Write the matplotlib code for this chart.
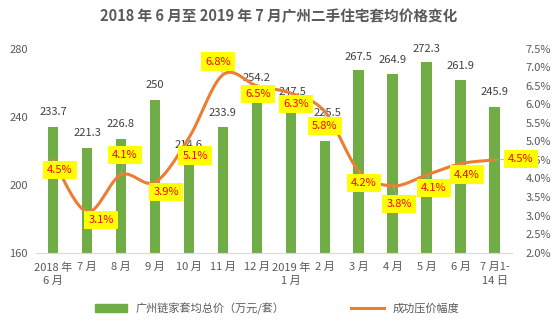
import numpy as np
import matplotlib.pyplot as plt
from matplotlib.lines import Line2D
from matplotlib.patches import Patch

plt.rcParams['font.family'] = ['Noto Sans CJK SC', 'DejaVu Sans']

# data
months = ['2018 年\n6 月', '7 月', '8 月', '9 月', '10 月', '11 月', '12 月',
          '2019 年\n1 月', '2 月', '3 月', '4 月', '5 月', '6 月', '7 月1-\n14 日']
avg_price = [233.7, 221.3, 226.8, 250, 214.6, 233.9, 254.2,
             247.5, 225.5, 267.5, 264.9, 272.3, 261.9, 245.9]
bargain = [4.5, 3.1, 4.1, 3.9, 5.1, 6.8, 6.5, 6.3, 5.8, 4.2, 3.8, 4.1, 4.4, 4.5]

# label offsets (pixels, +y is down)
bar_lab_off = [(0, 15), (0, 15), (0, 15), (0, 15), (0, 15), (0, 14), (0, 15),
               (2, 12), (3, 28), (0, 13), (0, 14), (0, 13), (0, 14), (0, 15)]
line_lab_off = [(7, 10), (14, 8), (4, -20), (11, 10), (6, 18), (-5, -13), (1, 8),
                (5, 11), (0, 14), (5, 12), (6, 18), (7, 13), (6, 11), (26, -1)]

grey = '#595959'


def smooth(xs, ys, n=30):
    # excel style smoothed line: bezier with catmull-rom control points
    xs = np.asarray(xs, float)
    ys = np.asarray(ys, float)
    px, py = [], []
    m = len(xs)
    for i in range(m - 1):
        i0 = max(i - 1, 0)
        i3 = min(i + 2, m - 1)
        c1x = xs[i] + (xs[i + 1] - xs[i0]) / 6
        c1y = ys[i] + (ys[i + 1] - ys[i0]) / 6
        c2x = xs[i + 1] - (xs[i3] - xs[i]) / 6
        c2y = ys[i + 1] - (ys[i3] - ys[i]) / 6
        t = np.linspace(0, 1, n)
        px.extend((1-t)**3*xs[i] + 3*(1-t)**2*t*c1x + 3*(1-t)*t**2*c2x + t**3*xs[i+1])
        py.extend((1-t)**3*ys[i] + 3*(1-t)**2*t*c1y + 3*(1-t)*t**2*c2y + t**3*ys[i+1])
    return px, py


fig = plt.figure(figsize=(5.54, 3.23), dpi=100)
ax = fig.add_axes([0.065, 0.218, 0.859, 0.631])
ax2 = ax.twinx()

x = np.arange(len(months))
ax.bar(x, [v - 160 for v in avg_price], bottom=160, width=0.32, color='#70AD47', zorder=2)
ax.set_ylim(160, 280)
ax.set_xlim(-0.5, len(months) - 0.5)
ax.set_yticks([160, 200, 240, 280])
ax.set_xticks(x)
ax.set_xticklabels(months, linespacing=1.45)
ax.tick_params(axis='both', length=0, labelsize=8, labelcolor=grey)
ax.tick_params(axis='x', pad=7)
ax.tick_params(axis='y', pad=6)
for s in ['top', 'left', 'right']:
    ax.spines[s].set_visible(False)
ax.spines['bottom'].set_color('#D9D9D9')

for i, v in enumerate(avg_price):
    dx, dy = bar_lab_off[i]
    ax.annotate(str(v), (x[i], v), xytext=(dx * 0.72, dy * 0.72), textcoords='offset points',
                ha='center', va='center', fontsize=8, color='#404040', zorder=3)

sx, sy = smooth(x, bargain)
ax2.plot(sx, sy, color='#ED7D31', lw=2.2, solid_capstyle='round', zorder=3)
ax2.set_ylim(2.0, 7.5)
ax2.set_yticks(np.arange(2.0, 7.51, 0.5))
ax2.set_yticklabels(['%.1f%%' % t for t in np.arange(2.0, 7.51, 0.5)])
ax2.tick_params(axis='y', length=0, labelsize=8, labelcolor=grey, pad=10)
for s in ['top', 'left', 'right', 'bottom']:
    ax2.spines[s].set_visible(False)

for i, v in enumerate(bargain):
    dx, dy = line_lab_off[i]
    ax2.annotate('%.1f%%' % v, (x[i], v), xytext=(dx * 0.72, -dy * 0.72), textcoords='offset points',
                 ha='center', va='center', fontsize=8, color='#FF0000', zorder=4,
                 bbox=dict(boxstyle='square,pad=0.38', fc='#FFFF00', ec='none'),
                 arrowprops=dict(arrowstyle='-', color='#A6A6A6', lw=0.6, shrinkA=0, shrinkB=0))

fig.text(0.503, 0.95, '2018 年 6 月至 2019 年 7 月广州二手住宅套均价格变化',
         ha='center', va='center', fontsize=10.5, fontweight='bold', color=grey)

handles = [Patch(color='#70AD47'), Line2D([], [], color='#ED7D31', lw=2.2)]
fig.legend(handles, ['广州链家套均总价（万元/套）', '成功压价幅度'], loc='center',
           bbox_to_anchor=(0.5, 0.045), ncol=2, frameon=False, fontsize=8,
           handlelength=2.9, handleheight=0.7, columnspacing=6.0, labelcolor=grey)

fig.savefig('out.png', dpi=100)
